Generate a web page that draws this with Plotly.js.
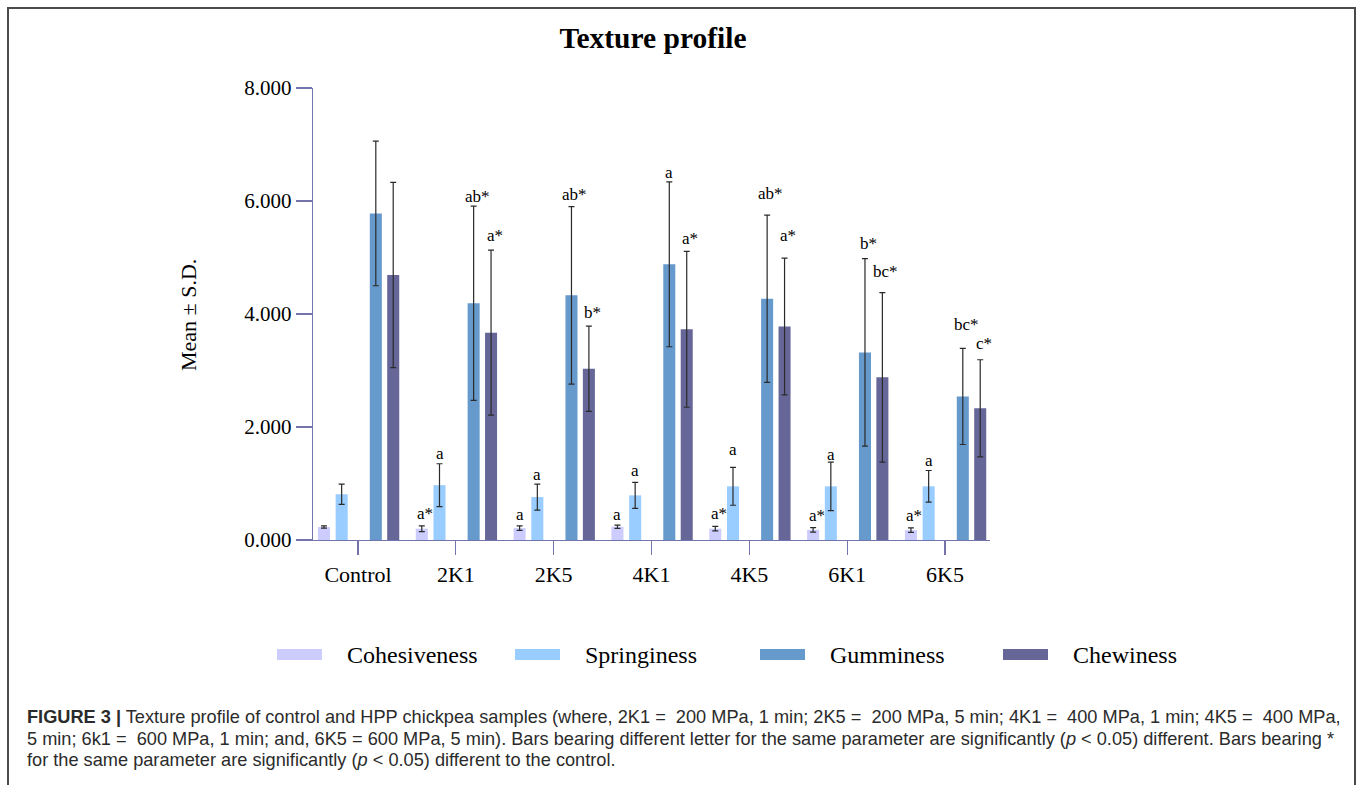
<!DOCTYPE html>
<html>
<head>
<meta charset="utf-8">
<script src="https://cdn.plot.ly/plotly-3.0.1.min.js"></script>
<style>
  html, body { margin: 0; padding: 0; background: #ffffff; }
  #chart { width: 1358px; height: 785px; }
</style>
</head>
<body>
<div id="chart"></div>
<script>
// Sample groups (x categories)
const groups = ['Control', '2K1', '2K5', '4K1', '4K5', '6K1', '6K5'];

// Texture parameters: mean and standard deviation per group
const cohesiveness   = [0.23, 0.20, 0.21, 0.235, 0.20, 0.18, 0.175];
const cohesivenessSD = [0.02, 0.05, 0.04, 0.03, 0.04, 0.04, 0.04];

const springiness    = [0.81, 0.97, 0.76, 0.79, 0.95, 0.95, 0.95];
const springinessSD  = [0.18, 0.38, 0.23, 0.23, 0.335, 0.43, 0.28];

const gumminess      = [5.78, 4.19, 4.33, 4.88, 4.27, 3.32, 2.54];
const gumminessSD    = [1.28, 1.72, 1.57, 1.46, 1.48, 1.66, 0.85];

const chewiness      = [4.69, 3.67, 3.03, 3.73, 3.78, 2.88, 2.33];
const chewinessSD    = [1.64, 1.46, 0.755, 1.38, 1.21, 1.50, 0.86];

// Significance letters written above each bar
const cohesivenessLetters = ['', 'a*', 'a', 'a', 'a*', 'a*', 'a*'];
const springinessLetters  = ['', 'a', 'a', 'a', 'a', 'a', 'a'];
const gumminessLetters    = ['', 'ab*', 'ab*', 'a', 'ab*', 'b*', 'bc*'];
const chewinessLetters    = ['', 'a*', 'b*', 'a*', 'a*', 'bc*', 'c*'];

const seriesNames  = ['Cohesiveness', 'Springiness', 'Gumminess', 'Chewiness'];
const seriesColors = ['#ccccff', '#99ccff', '#6699cc', '#666699'];

const tickValues = [0, 2, 4, 6, 8];

// ---- styling ----
const serif = 'Liberation Serif, Times New Roman, serif';
const sans = 'Liberation Sans, Arial, Helvetica, sans-serif';
const axisColor = '#7474aa';

// extra lift (px) of each letter label above its error bar
const cohesivenessLift = [0, 1, 0, -1, 1, 0.5, 0.5];
const springinessLift  = [0, -1, -2, 0, 6, -4, -1];
const gumminessLift    = [0, -1.5, 0.5, -2, 10.5, 4, 12];
const chewinessLift    = [0, 3, 2, 1, 11, 10, 5];

const series = [
  { name: seriesNames[0], y: cohesiveness, sd: cohesivenessSD, letters: cohesivenessLetters, lift: cohesivenessLift, color: seriesColors[0] },
  { name: seriesNames[1], y: springiness,  sd: springinessSD,  letters: springinessLetters,  lift: springinessLift,  color: seriesColors[1] },
  { name: seriesNames[2], y: gumminess,    sd: gumminessSD,    letters: gumminessLetters,    lift: gumminessLift,    color: seriesColors[2] },
  { name: seriesNames[3], y: chewiness,    sd: chewinessSD,    letters: chewinessLetters,    lift: chewinessLift,    color: seriesColors[3] }
];

// bar slots inside each group (the middle slot stays empty)
const slotCenters = [-0.348, -0.167, 0.182, 0.36];
const barWidth = 0.123;

// plot area in page pixels, used for placing the hand-built legend and caption
const area = { l: 313, r: 990, t: 88, b: 540 };
const px2x = px => (px - area.l) / (area.r - area.l);
const px2y = py => (area.b - py) / (area.b - area.t);

const traces = series.map((s, k) => ({
  type: 'bar',
  name: s.name,
  x: groups,
  y: s.y,
  offset: slotCenters[k] - barWidth / 2,
  width: barWidth,
  marker: { color: s.color, line: { width: 0 } },
  error_y: { type: 'data', array: s.sd, visible: true, color: '#2a2a2a', thickness: 1.2, width: 3 },
  showlegend: false,
  hoverinfo: 'x+y+name'
}));

const annotations = [];

// letters above the error bars
series.forEach((s, k) => {
  s.letters.forEach((txt, i) => {
    if (!txt) return;
    annotations.push({
      x: i + slotCenters[k], xref: 'x',
      y: s.y[i] + s.sd[i], yref: 'y',
      text: txt, showarrow: false,
      xanchor: 'center', yanchor: 'bottom',
      xshift: txt.endsWith('*') ? 3.5 : 0, yshift: s.lift[i],
      font: { family: serif, size: 17, color: '#000' }
    });
  });
});

// y-axis title
annotations.push({
  x: px2x(188), xref: 'paper', y: px2y(315), yref: 'paper',
  text: 'Mean ± S.D.', textangle: -90, showarrow: false,
  xanchor: 'center', yanchor: 'middle',
  font: { family: serif, size: 22, color: '#000' }
});

// legend
const legendSwatchX = [277, 515, 760, 1003];
const shapes = [];
series.forEach((s, k) => {
  shapes.push({
    type: 'rect', xref: 'paper', yref: 'paper',
    x0: px2x(legendSwatchX[k]), x1: px2x(legendSwatchX[k] + 45),
    y0: px2y(660), y1: px2y(649),
    fillcolor: s.color, line: { width: 0 }
  });
  annotations.push({
    x: px2x(legendSwatchX[k] + 68), xref: 'paper', y: px2y(655), yref: 'paper',
    text: s.name, showarrow: false, xanchor: 'left', yanchor: 'middle',
    font: { family: serif, size: 24, color: '#000' }
  });
});

// figure caption
const captionLines = [
  '<b>FIGURE 3 |</b> Texture profile of control and HPP chickpea samples (where, 2K1 =\u00a0 200 MPa, 1 min; 2K5 =\u00a0 200 MPa, 5 min; 4K1 =\u00a0 400 MPa, 1 min; 4K5 =\u00a0 400 MPa,',
  '5 min; 6k1 =\u00a0 600 MPa, 1 min; and, 6K5 = 600 MPa, 5 min). Bars bearing different letter for the same parameter are significantly (<i>p</i> &lt; 0.05) different. Bars bearing *',
  'for the same parameter are significantly (<i>p</i> &lt; 0.05) different to the control.'
];
const captionY = [717, 739, 760];
captionLines.forEach((line, i) => {
  annotations.push({
    x: px2x(25), xref: 'paper', y: px2y(captionY[i]), yref: 'paper',
    text: line, showarrow: false, xanchor: 'left', yanchor: 'middle',
    font: { family: sans, size: 18.2, color: '#2b2b2b' }
  });
});

// frame around the figure
shapes.push({
  type: 'rect', xref: 'paper', yref: 'paper',
  x0: px2x(8), x1: px2x(1355), y0: px2y(800), y1: px2y(8),
  line: { color: '#4a4a4a', width: 2 }, fillcolor: 'rgba(0,0,0,0)'
});

const layout = {
  width: 1358, height: 785,
  margin: { l: area.l, r: 1358 - area.r, t: area.t, b: 785 - area.b, pad: 0 },
  paper_bgcolor: '#ffffff', plot_bgcolor: '#ffffff',
  barmode: 'overlay',
  title: {
    text: 'Texture profile',
    font: { family: serif, size: 29.5, color: '#000', weight: 'bold' },
    xref: 'container', yref: 'container',
    x: 653 / 1358, y: 1 - 38 / 785, xanchor: 'center', yanchor: 'middle'
  },
  xaxis: {
    type: 'category', range: [-0.46, 6.46],
    showline: true, linecolor: axisColor, linewidth: 1.3,
    ticks: 'outside', ticklen: 14, tickwidth: 1.3, tickcolor: axisColor,
    showgrid: false, zeroline: false, automargin: false,
    tickfont: { family: serif, size: 22, color: '#000' }
  },
  yaxis: {
    range: [0, 8], tickvals: tickValues, tickformat: '.3f',
    showline: true, linecolor: axisColor, linewidth: 1.3,
    ticks: 'outside', ticklen: 16, tickwidth: 1.3, tickcolor: axisColor,
    showgrid: false, zeroline: false, automargin: false,
    tickfont: { family: serif, size: 21, color: '#000' }
  },
  annotations: annotations,
  shapes: shapes,
  showlegend: false
};

Plotly.newPlot('chart', traces, layout, { displayModeBar: false, staticPlot: true });
</script>
</body>
</html>
